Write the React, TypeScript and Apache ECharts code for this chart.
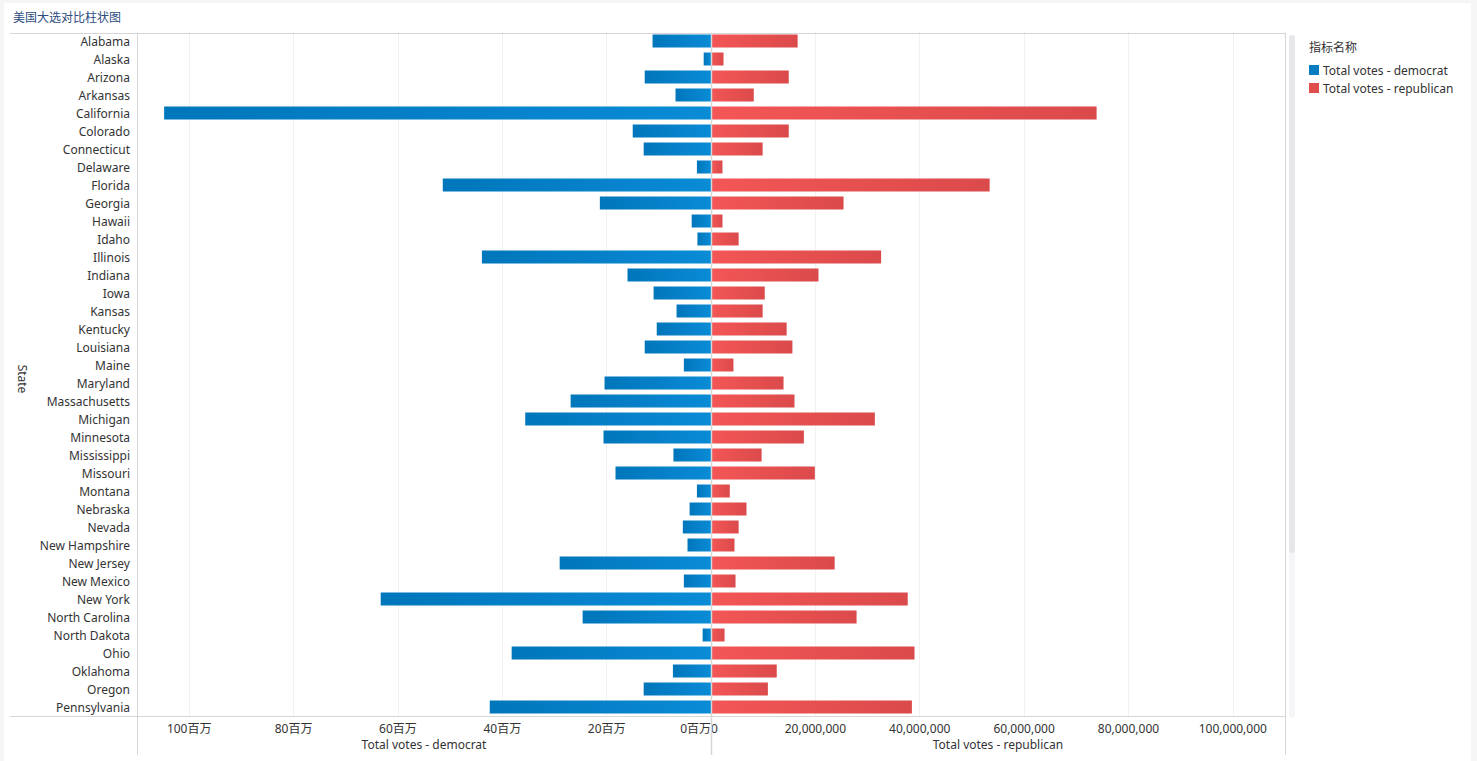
import React, { useEffect, useRef } from "react";
import * as echarts from "echarts";

const TITLE = "美国大选对比柱状图";
const LEGEND_TITLE = "指标名称";
const SERIES_DEM = "Total votes - democrat";
const SERIES_REP = "Total votes - republican";
const Y_NAME = "State";

const states = [
  "Alabama", "Alaska", "Arizona", "Arkansas", "California", "Colorado", "Connecticut",
  "Delaware", "Florida", "Georgia", "Hawaii", "Idaho", "Illinois", "Indiana", "Iowa",
  "Kansas", "Kentucky", "Louisiana", "Maine", "Maryland", "Massachusetts", "Michigan",
  "Minnesota", "Mississippi", "Missouri", "Montana", "Nebraska", "Nevada", "New Hampshire",
  "New Jersey", "New Mexico", "New York", "North Carolina", "North Dakota", "Ohio",
  "Oklahoma", "Oregon", "Pennsylvania",
];

const democratVotes = [
  11200000, 1400000, 12700000, 6800000, 104800000, 15000000, 12900000,
  2700000, 51400000, 21300000, 3700000, 2600000, 43900000, 16000000, 11000000,
  6600000, 10400000, 12700000, 5200000, 20400000, 26900000, 35600000,
  20600000, 7200000, 18300000, 2700000, 4100000, 5400000, 4500000,
  29000000, 5200000, 63300000, 24600000, 1600000, 38200000,
  7300000, 12900000, 42400000,
];

const republicanVotes = [
  16600000, 2400000, 14900000, 8200000, 73900000, 14900000, 9900000,
  2200000, 53400000, 25400000, 2200000, 5300000, 32600000, 20600000, 10300000,
  9900000, 14500000, 15600000, 4300000, 13900000, 16000000, 31400000,
  17800000, 9700000, 19900000, 3600000, 6800000, 5300000, 4500000,
  23700000, 4700000, 37700000, 27900000, 2600000, 39000000,
  12600000, 10900000, 38500000,
];

const AXIS_MIN = 0;
const AXIS_MAX = 110000000;
const AXIS_STEP = 20000000;

const FONT = '"Noto Sans", "Noto Sans CJK SC", sans-serif';

function fmtMillionCN(v: number) {
  return Math.round(v / 1000000) + "百万";
}
function fmtComma(v: number) {
  return Math.round(v).toString().replace(/\B(?=(\d{3})+(?!\d))/g, ",");
}

export default function App() {
  const ref = useRef<HTMLDivElement>(null);

  useEffect(() => {
    if (!ref.current) return;
    const chart = echarts.init(ref.current, null, { renderer: "svg" });

    const lineColor = "#d6d6d6";
    const demGrad = new echarts.graphic.LinearGradient(0, 0, 1, 0, [
      { offset: 0, color: "#0076bb" },
      { offset: 1, color: "#0a8bd6" },
    ]);
    const repGrad = new echarts.graphic.LinearGradient(0, 0, 1, 0, [
      { offset: 0, color: "#f35656" },
      { offset: 1, color: "#db4a4b" },
    ]);

    const option: any = {
      animation: false,
      backgroundColor: "#ffffff",
      textStyle: { fontFamily: FONT },
      legend: {
        orient: "vertical",
        left: 1309,
        top: 64,
        padding: 0,
        itemWidth: 10,
        itemHeight: 10,
        itemGap: 6,
        icon: "rect",
        textStyle: { fontSize: 12, color: "#333", lineHeight: 12, fontFamily: FONT, padding: [0, 0, 0, -1] },
        data: [
          { name: SERIES_DEM, itemStyle: { color: "#0a7cc1" } },
          { name: SERIES_REP, itemStyle: { color: "#e04e4e" } },
        ],
        selectedMode: false,
      },
      grid: [
        { left: 137, top: 32, width: 574, height: 684, containLabel: false },
        { left: 711, top: 32, width: 574, height: 684, containLabel: false },
      ],
      xAxis: [
        {
          type: "value",
          gridIndex: 0,
          inverse: true,
          min: AXIS_MIN,
          max: AXIS_MAX,
          interval: AXIS_STEP,
          axisLine: { show: false },
          axisTick: { show: false },
          splitLine: { show: true, lineStyle: { color: "#f1f1f1", width: 1 } },
          axisLabel: {
            formatter: fmtMillionCN,
            color: "#333",
            fontSize: 12,
            margin: 6,
            showMaxLabel: false,
            alignMinLabel: "right",
            fontFamily: FONT,
          },
          name: SERIES_DEM,
          nameLocation: "middle",
          nameGap: 20,
          nameTextStyle: { color: "#333", fontSize: 12, fontFamily: FONT },
        },
        {
          type: "value",
          gridIndex: 1,
          min: AXIS_MIN,
          max: AXIS_MAX,
          interval: AXIS_STEP,
          axisLine: { show: false },
          axisTick: { show: false },
          splitLine: { show: true, lineStyle: { color: "#f1f1f1", width: 1 } },
          axisLabel: {
            formatter: fmtComma,
            color: "#333",
            fontSize: 12,
            margin: 6,
            showMaxLabel: false,
            alignMinLabel: "left",
            fontFamily: FONT,
          },
          name: SERIES_REP,
          nameLocation: "middle",
          nameGap: 20,
          nameTextStyle: { color: "#333", fontSize: 12, fontFamily: FONT },
        },
      ],
      yAxis: [
        {
          type: "category",
          gridIndex: 0,
          inverse: true,
          data: states,
          axisLine: { show: false },
          axisTick: { show: false },
          axisLabel: { color: "#333", fontSize: 12, margin: 7, fontFamily: FONT },
        },
        {
          type: "category",
          gridIndex: 1,
          inverse: true,
          data: states,
          axisLine: { show: false },
          axisTick: { show: false },
          axisLabel: { show: false },
        },
      ],
      series: [
        {
          name: SERIES_DEM,
          type: "bar",
          xAxisIndex: 0,
          yAxisIndex: 0,
          data: democratVotes,
          barWidth: 13,
          itemStyle: { color: demGrad },
        },
        {
          name: SERIES_REP,
          type: "bar",
          xAxisIndex: 1,
          yAxisIndex: 1,
          data: republicanVotes,
          barWidth: 13,
          itemStyle: { color: repGrad },
        },
      ],
      graphic: [
        { type: "rect", z: -10, silent: true, shape: { x: 0, y: 0, width: 1477, height: 761 }, style: { fill: "#f5f5f5" } },
        { type: "rect", z: -9, silent: true, shape: { x: 4, y: 3, width: 1467, height: 758 }, style: { fill: "#ffffff" } },
        {
          type: "text", x: 13, y: 17, z: 10,
          style: { text: TITLE, fill: "#2d4c7e", fontSize: 12, fontFamily: FONT, verticalAlign: "middle" },
        },
        {
          type: "text", x: 22, y: 379, rotation: -Math.PI / 2, z: 10,
          style: { text: Y_NAME, fill: "#333", fontSize: 12, fontFamily: FONT, align: "center", verticalAlign: "middle" },
        },
        {
          type: "text", x: 1309, y: 47, z: 10,
          style: { text: LEGEND_TITLE, fill: "#333", fontSize: 12, fontFamily: FONT, verticalAlign: "middle" },
        },
        { type: "line", z: 50, silent: true, shape: { x1: 10, y1: 33.5, x2: 1285, y2: 33.5 }, style: { stroke: lineColor, lineWidth: 1 } },
        { type: "line", z: 50, silent: true, shape: { x1: 10, y1: 716.5, x2: 1285, y2: 716.5 }, style: { stroke: lineColor, lineWidth: 1 } },
        { type: "line", z: 50, silent: true, shape: { x1: 137.5, y1: 33, x2: 137.5, y2: 755 }, style: { stroke: lineColor, lineWidth: 1 } },
        { type: "line", z: 50, silent: true, shape: { x1: 711.5, y1: 33, x2: 711.5, y2: 755 }, style: { stroke: lineColor, lineWidth: 1.5 } },
        { type: "line", z: 50, silent: true, shape: { x1: 1285.5, y1: 33, x2: 1285.5, y2: 755 }, style: { stroke: lineColor, lineWidth: 1 } },
        { type: "rect", z: 50, silent: true, shape: { x: 1289, y: 35, width: 6, height: 683, r: 3 }, style: { fill: "#f5f5f7" } },
        { type: "rect", z: 51, silent: true, shape: { x: 1289, y: 35, width: 6, height: 518, r: 3 }, style: { fill: "#e6e6eb" } },
      ],
    };

    chart.setOption(option);
    return () => chart.dispose();
  }, []);

  return (
    <div
      ref={ref}
      style={{ position: "fixed", left: 0, top: 0, width: 1477, height: 761 }}
    />
  );
}
